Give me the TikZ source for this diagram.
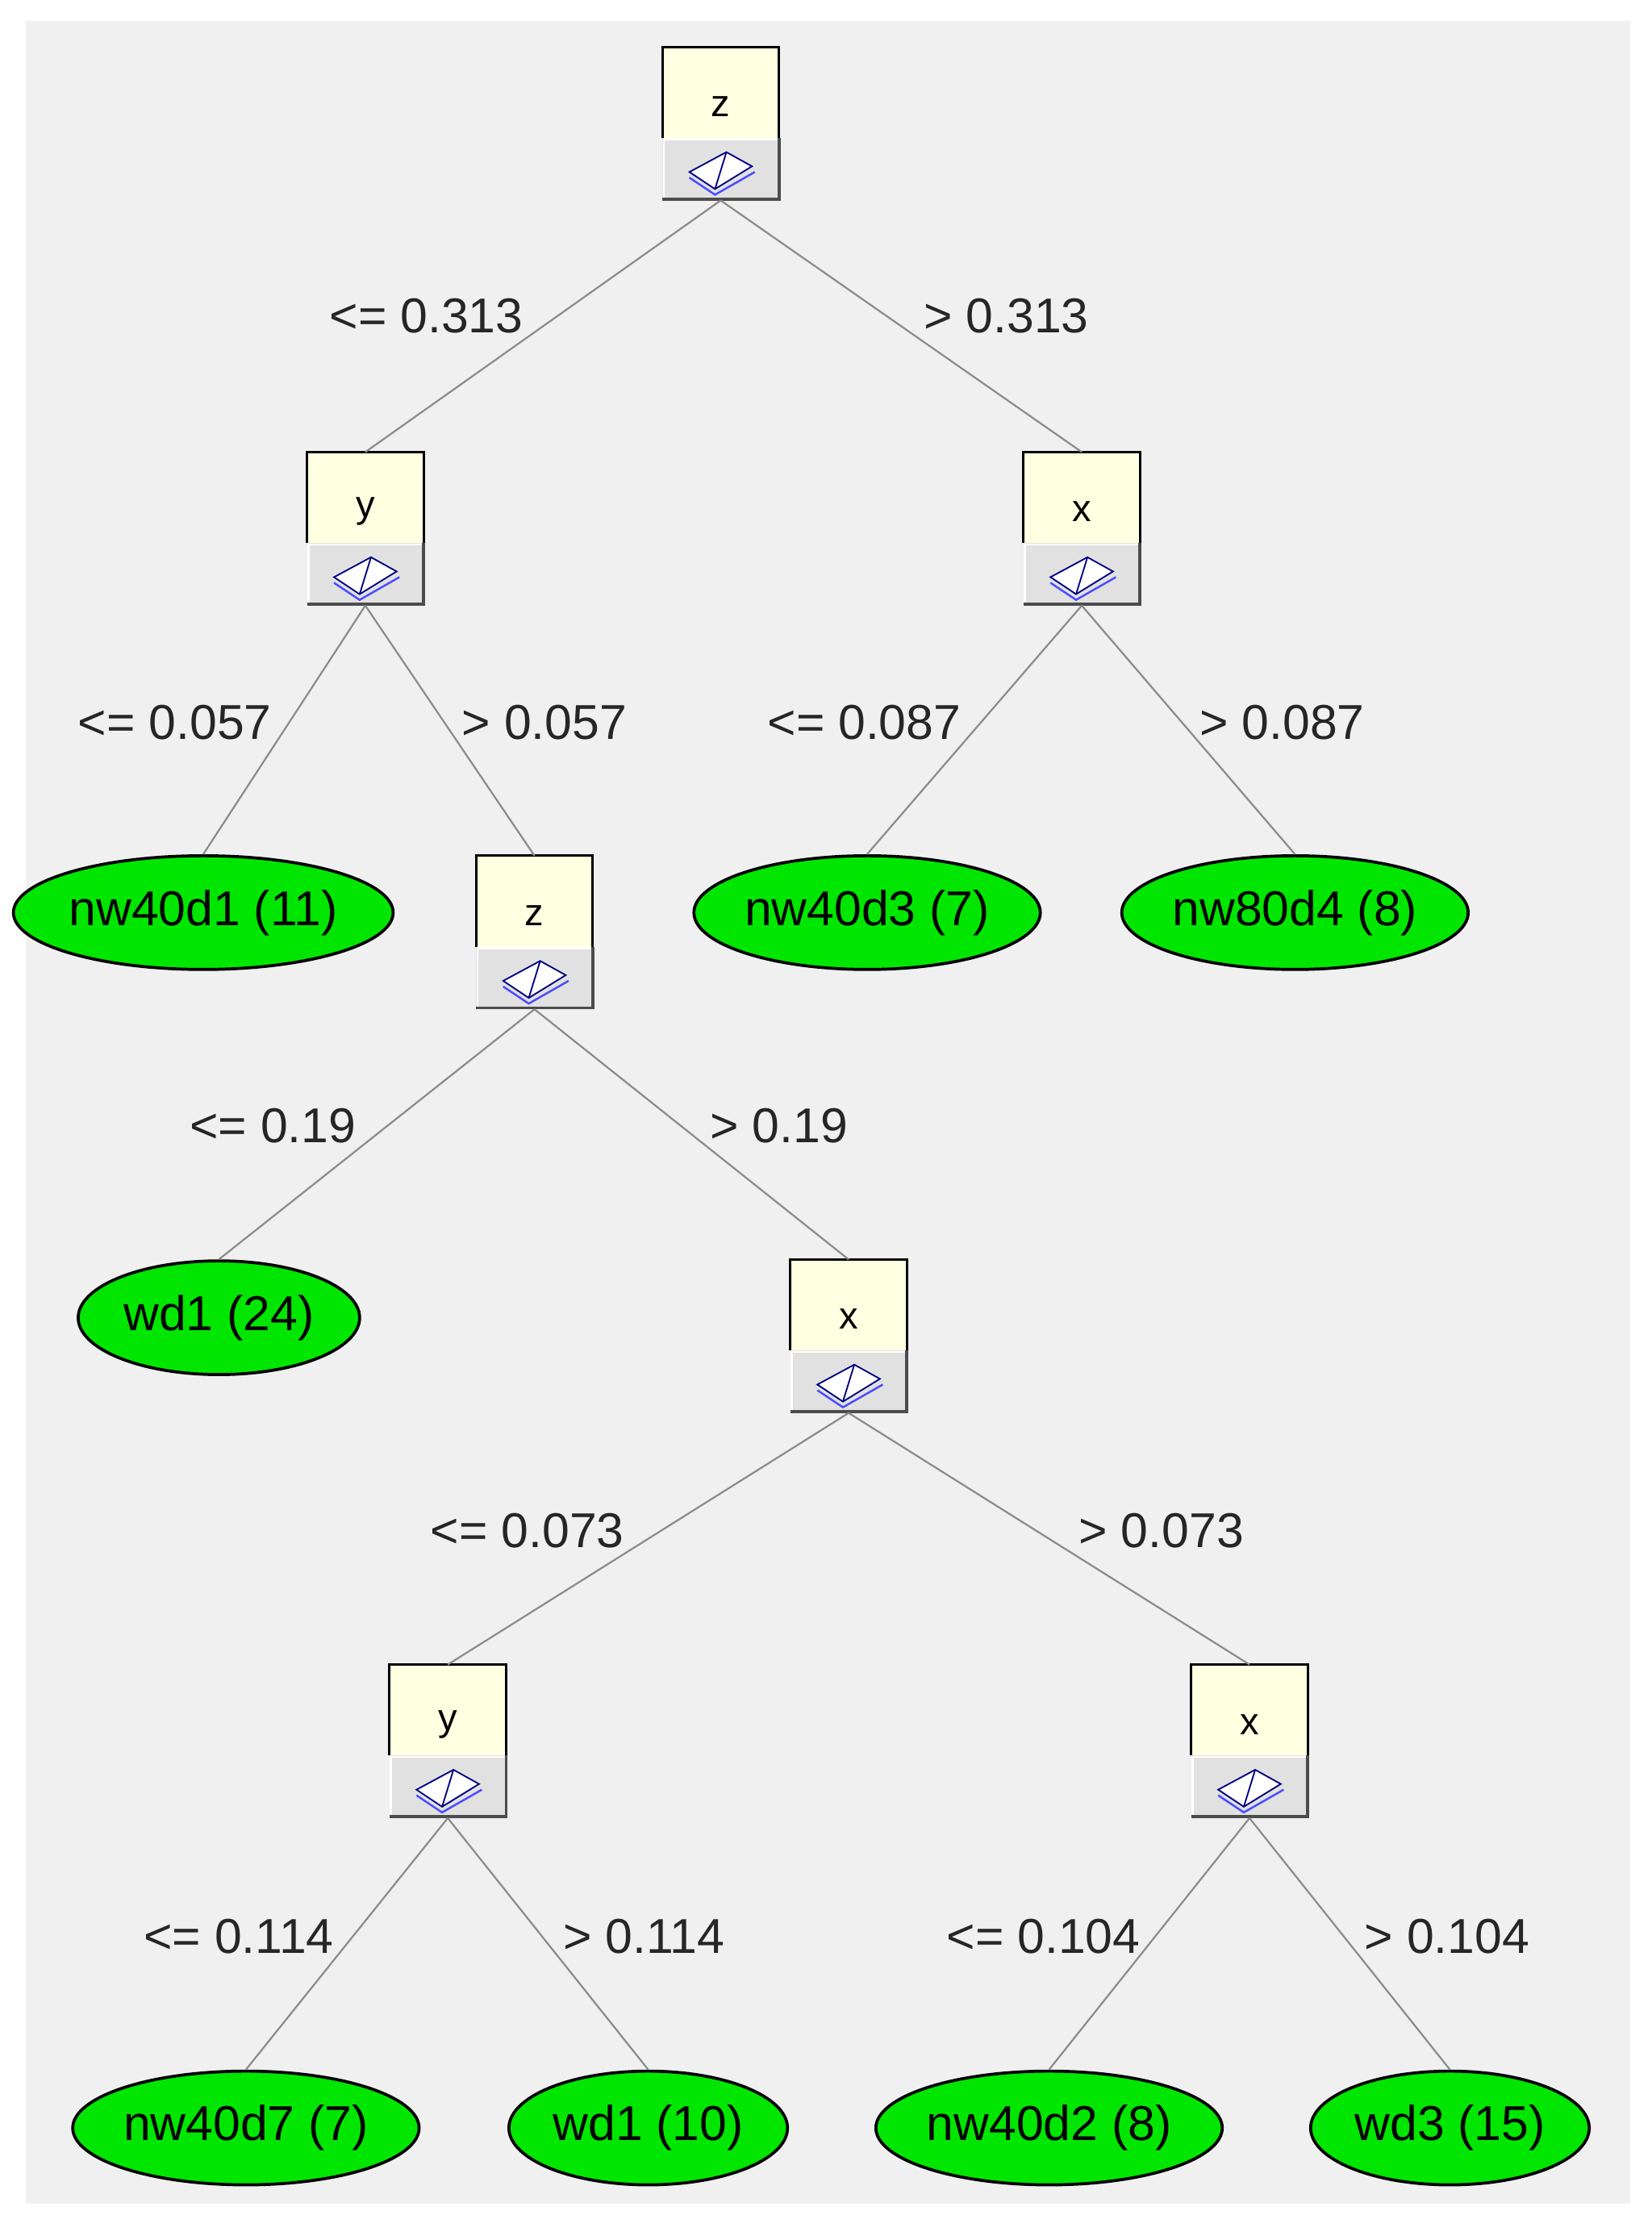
\documentclass[tikz,border=0pt]{standalone}
\usepackage{fontspec}
\setmainfont{Liberation Sans}
\usetikzlibrary{shapes.geometric}
\definecolor{bg}{RGB}{240,240,240}
\definecolor{cream}{RGB}{255,255,225}
\definecolor{btn}{RGB}{225,225,225}
\definecolor{lf}{RGB}{0,230,0}
\tikzset{
 leaf/.style={ellipse,draw=black,line width=3pt,fill=lf,minimum height=4cm,inner sep=0pt,font=\fontsize{49}{54}\selectfont},
 lab/.style={font=\fontsize{49}{54}\selectfont,text=black!85},
 var/.style={font=\fontsize{38}{42}\selectfont},
 edge/.style={draw=gray!90,line width=1.8pt}
}
\newcommand\tbox[4]{% name, x, ytop, letter
 \fill[cream] (#2-41,#3) rectangle (#2+41,#3+64);
 \draw[line width=2.5pt] (#2-41,#3+64)--(#2-41,#3)--(#2+41,#3)--(#2+41,#3+64);
 \fill[btn] (#2-41,#3+64) rectangle (#2+41,#3+107);
 \draw[white,line width=2pt] (#2-40,#3+106)--(#2-40,#3+65)--(#2+40,#3+65);
 \draw[black!70,line width=3pt] (#2-41,#3+107)--(#2+41,#3+107)--(#2+41,#3+64);
 \draw[blue!50!black,fill=white,line width=1.5pt] (#2-22,#3+88)--(#2-4,#3+100)--(#2+22,#3+84)--(#2+4,#3+74)--cycle;
 \draw[blue!50!black,line width=1.5pt] (#2-4,#3+100)--(#2+4,#3+74);
 \draw[blue!70,line width=2pt] (#2-22,#3+92)--(#2-4,#3+104)--(#2+24,#3+88);
 \node[var] (#1) at (#2,#3+42) {#4};
 \coordinate (#1-t) at (#2,#3);
 \coordinate (#1-b) at (#2,#3+108);
}
\begin{document}
\begin{tikzpicture}[x=0.05cm,y=-0.05cm]
\useasboundingbox (0,0) rectangle (1162,1573);
\fill[white] (0,0) rectangle (1162,1573);
\fill[bg] (18,15) rectangle (1147,1550);
\tbox{r}{507}{33}{z}
\tbox{ya}{257}{318}{y}
\tbox{xa}{761}{318}{x}
\tbox{zb}{376}{602}{z}
\tbox{xb}{597}{886}{x}
\tbox{yc}{315}{1171}{y}
\tbox{xc}{879}{1171}{x}
\node[leaf,minimum width=12.5cm] (l1) at (143,642) {nw40d1 (11)};
\node[leaf,minimum width=11.75cm] (l2) at (610,642) {nw40d3 (7)};
\node[leaf,minimum width=11.75cm] (l3) at (911,642) {nw80d4 (8)};
\node[leaf,minimum width=9.9cm] (l4) at (154,927) {wd1 (24)};
\node[leaf,minimum width=11.75cm] (l5) at (173,1497) {nw40d7 (7)};
\node[leaf,minimum width=9.8cm] (l6) at (456,1497) {wd1 (10)};
\node[leaf,minimum width=11.75cm] (l7) at (738,1497) {nw40d2 (8)};
\node[leaf,minimum width=9.8cm] (l8) at (1020,1497) {wd3 (15)};
\draw[edge] (r-b)--(ya-t); \draw[edge] (r-b)--(xa-t);
\draw[edge] (ya-b)--(l1.north); \draw[edge] (ya-b)--(zb-t);
\draw[edge] (xa-b)--(l2.north); \draw[edge] (xa-b)--(l3.north);
\draw[edge] (zb-b)--(l4.north); \draw[edge] (zb-b)--(xb-t);
\draw[edge] (xb-b)--(yc-t); \draw[edge] (xb-b)--(xc-t);
\draw[edge] (yc-b)--(l5.north); \draw[edge] (yc-b)--(l6.north);
\draw[edge] (xc-b)--(l7.north); \draw[edge] (xc-b)--(l8.north);
\node[lab] (e1) at (300,222) {<= 0.313};
\node[lab] (e2) at (708,222) {> 0.313};
\node[lab] (e3) at (123,508) {<= 0.057};
\node[lab] (e4) at (383,508) {> 0.057};
\node[lab] (e5) at (608,508) {<= 0.087};
\node[lab] (e6) at (902,508) {> 0.087};
\node[lab] (e7) at (192,792) {<= 0.19};
\node[lab] (e8) at (548,792) {> 0.19};
\node[lab] (e9) at (371,1077) {<= 0.073};
\node[lab] (e10) at (817,1077) {> 0.073};
\node[lab] (e11) at (168,1362) {<= 0.114};
\node[lab] (e12) at (453,1362) {> 0.114};
\node[lab] (e13) at (734,1362) {<= 0.104};
\node[lab] (e14) at (1018,1362) {> 0.104};
\end{tikzpicture}
\end{document}
